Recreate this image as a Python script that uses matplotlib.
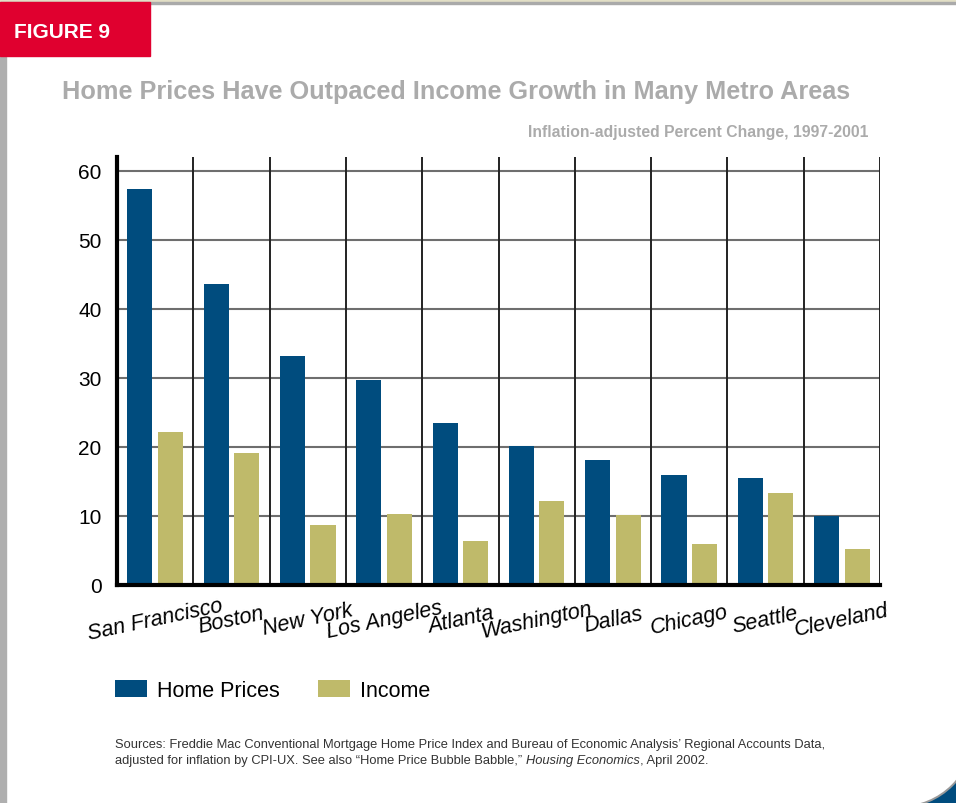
import numpy as np
import matplotlib
matplotlib.use("Agg")
import matplotlib.pyplot as plt
from matplotlib.patches import Rectangle, Circle

# data
metros = ["San Francisco", "Boston", "New York", "Los Angeles", "Atlanta",
          "Washington", "Dallas", "Chicago", "Seattle", "Cleveland"]
home_prices = [57.4, 43.6, 33.2, 29.7, 23.5, 20.1, 18.1, 15.9, 15.5, 10.0]
income = [22.2, 19.1, 8.7, 10.3, 6.4, 12.2, 10.1, 5.9, 13.3, 5.2]
yticks = [0, 10, 20, 30, 40, 50, 60]

navy = "#004C7E"
khaki = "#BFBA6A"
gray_txt = "#ABABAB"

plt.rcParams["font.family"] = ["Liberation Sans", "DejaVu Sans"]

fig = plt.figure(figsize=(9.56, 8.04), dpi=100)
W, H = 956, 804
fig.canvas.draw()
rend = fig.canvas.get_renderer()


def fx(px):
    return px / W


def fy(py):
    return 1 - py / H


def fit(t, width_px):
    # scale a text so that its width matches the reference
    w = t.get_window_extent(renderer=rend).width
    t.set_fontsize(t.get_fontsize() * width_px / w)


# frame decorations
fig.patches.append(Rectangle((0, fy(3)), 1, 3 / H, transform=fig.transFigure,
                             color="#E2DFC6", zorder=0))
fig.patches.append(Rectangle((0, fy(5)), 1, 2 / H, transform=fig.transFigure,
                             color="#AAAAAA", zorder=0))
fig.patches.append(Rectangle((0, 0), fx(6), fy(57), transform=fig.transFigure,
                             color="#AFAFAF", zorder=0))
fig.patches.append(Rectangle((0, fy(57)), fx(150), 54 / H, transform=fig.transFigure,
                             color="#E0002F", zorder=1))
t = fig.text(fx(14), fy(33), "FIGURE 9", color="white", fontsize=18, fontweight="bold",
             va="center", ha="left")
fit(t, 96)

# bottom right corner
corner_bg = Rectangle((fx(895), 0), fx(61), 45 / H, transform=fig.transFigure,
                      color=navy, zorder=0)
fig.patches.append(corner_bg)
shadow = Circle((900, 70), 75, transform=None, facecolor="#9A9A9A", edgecolor="none",
                zorder=0.4)
shadow.set_clip_path(corner_bg)
fig.patches.append(shadow)
fig.patches.append(Circle((900, 70), 73, transform=None, facecolor="white",
                          edgecolor="none", zorder=0.5))

t = fig.text(fx(62), fy(92), "Home Prices Have Outpaced Income Growth in Many Metro Areas",
             color=gray_txt, fontsize=20, fontweight="bold", va="center", ha="left")
fit(t, 786)
t = fig.text(fx(868), fy(133), "Inflation-adjusted Percent Change, 1997-2001",
             color=gray_txt, fontsize=12, fontweight="bold", va="center", ha="right")
fit(t, 338)

ax = fig.add_axes([fx(117), fy(586), fx(880) - fx(117), (586 - 158) / H])
x = np.arange(len(metros))
b1 = ax.bar(x + 0.3, home_prices, width=0.33, color=navy, label="Home Prices", zorder=3)
b2 = ax.bar(x + 0.7, income, width=0.33, color=khaki, label="Income", zorder=3)

ax.set_xlim(0, len(metros))
ax.set_ylim(0, 62)
for v in yticks[1:]:
    ax.axhline(v, color="#6E6E6E", lw=1.5, zorder=1)
for i in range(1, len(metros) + 1):
    ax.axvline(i, color="#222222", lw=1.4, zorder=2)

for s in ["top", "right"]:
    ax.spines[s].set_visible(False)
for s in ["left", "bottom"]:
    ax.spines[s].set_linewidth(3)
    ax.spines[s].set_zorder(4)

ax.set_xticks([])
ax.set_yticks(yticks)
ax.tick_params(axis="y", length=0, pad=11, labelsize=15)

for i, name in enumerate(metros):
    ax.text(i + 0.5, -5.0, name, rotation=12, ha="center", va="center",
            fontsize=15.5, fontstyle="italic", clip_on=False, rotation_mode="anchor")

fig.legend(handles=[b1, b2], loc="upper left", bbox_to_anchor=(fx(106), fy(672)),
           ncol=2, frameon=False, fontsize=15.5, handlelength=1.5, handleheight=0.82,
           handletextpad=0.45, columnspacing=1.8, borderaxespad=0)

t = fig.text(fx(115), fy(745), "Sources: Freddie Mac Conventional Mortgage Home Price Index and "
             "Bureau of Economic Analysis\u2019 Regional Accounts Data,",
             fontsize=10, color="#333333", va="center", ha="left")
fit(t, 715)
fs = t.get_fontsize()
parts = [("adjusted for inflation by CPI-UX. See also \u201cHome Price Bubble Babble,\u201d ", "normal"),
         ("Housing Economics", "italic"),
         (", April 2002.", "normal")]
xpos = 115
for txt, st in parts:
    t = fig.text(fx(xpos), fy(761), txt, fontsize=fs, color="#333333", va="center",
                 ha="left", fontstyle=st)
    xpos += t.get_window_extent(renderer=rend).width

fig.savefig("out.png", dpi=100)
